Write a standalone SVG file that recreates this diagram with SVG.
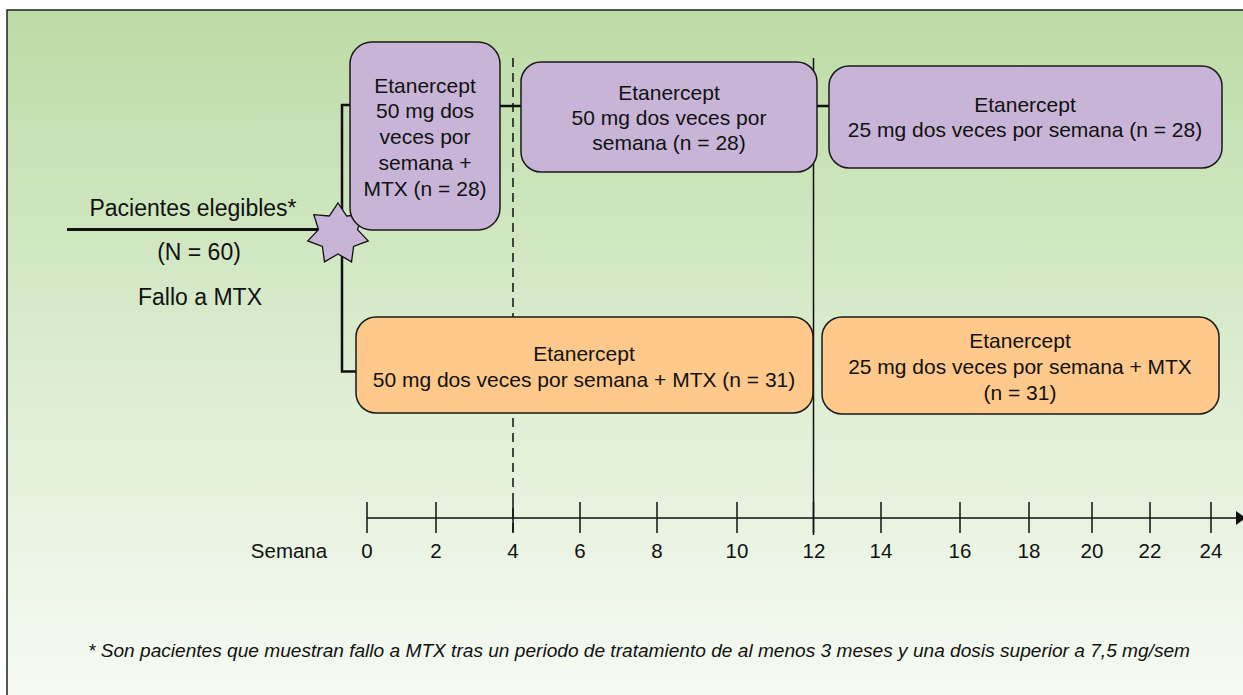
<svg xmlns="http://www.w3.org/2000/svg" width="1243" height="695" viewBox="0 0 1243 695">
<defs>
<linearGradient id="bg" x1="0" y1="0" x2="0" y2="1">
<stop offset="0" stop-color="#bcdba5"/>
<stop offset="0.45" stop-color="#d8ebcc"/>
<stop offset="1" stop-color="#f8fbf5"/>
</linearGradient>
<style>
text{font-family:"Liberation Sans",Arial,sans-serif;fill:#111;}
.bt{font-size:21px;text-anchor:middle;}
.lt{font-size:23px;text-anchor:middle;}
.ax{font-size:20.5px;text-anchor:middle;}
.p{fill:#c8b4d7;stroke:#1a1a1a;stroke-width:1.5;}
.o{fill:#fec98a;stroke:#1a1a1a;stroke-width:1.5;}
.c{stroke:#111;stroke-width:2.5;fill:none;}
.t{stroke:#111;stroke-width:1.5;fill:none;}
</style>
</defs>
<rect x="7" y="10" width="1245" height="700" fill="url(#bg)" stroke="#222" stroke-width="1.5"/>

<g id="connectors">
<line class="c" x1="67" y1="229.5" x2="320" y2="229.5" style="stroke-width:3"/>
<polyline class="c" points="352,105 342,105 342,371.5 357,371.5"/>
<line class="c" x1="500" y1="106" x2="521" y2="106"/>
<line class="c" x1="817" y1="106" x2="829" y2="106"/>
<line class="t" x1="513" y1="58" x2="513" y2="535" stroke-dasharray="9,6"/>
<line class="t" x1="813.5" y1="58" x2="813.5" y2="535"/>
</g>

<g id="axis">
<line class="t" x1="367" y1="518" x2="1238" y2="518"/>
<polygon points="1236,511 1246,518 1236,525" fill="#111"/>
<g class="t">
<line x1="367" y1="502" x2="367" y2="533"/>
<line x1="436" y1="502" x2="436" y2="533"/>
<line x1="513" y1="502" x2="513" y2="533"/>
<line x1="580" y1="502" x2="580" y2="533"/>
<line x1="657" y1="502" x2="657" y2="533"/>
<line x1="737" y1="502" x2="737" y2="533"/>
<line x1="813.5" y1="502" x2="813.5" y2="533"/>
<line x1="881" y1="502" x2="881" y2="533"/>
<line x1="960" y1="502" x2="960" y2="533"/>
<line x1="1029" y1="502" x2="1029" y2="533"/>
<line x1="1092" y1="502" x2="1092" y2="533"/>
<line x1="1150" y1="502" x2="1150" y2="533"/>
<line x1="1211" y1="502" x2="1211" y2="533"/>
</g>
<text class="ax" x="289" y="558">Semana</text>
<text class="ax" x="367" y="558">0</text>
<text class="ax" x="436" y="558">2</text>
<text class="ax" x="513" y="558">4</text>
<text class="ax" x="580" y="558">6</text>
<text class="ax" x="657" y="558">8</text>
<text class="ax" x="737" y="558">10</text>
<text class="ax" x="814" y="558">12</text>
<text class="ax" x="881" y="558">14</text>
<text class="ax" x="960" y="558">16</text>
<text class="ax" x="1029" y="558">18</text>
<text class="ax" x="1092" y="558">20</text>
<text class="ax" x="1150" y="558">22</text>
<text class="ax" x="1211" y="558">24</text>
</g>

<g id="pacientes">
<text class="lt" x="193" y="216">Pacientes elegibles*</text>
<text class="lt" x="199" y="260">(N = 60)</text>
<text class="lt" x="200" y="305">Fallo a MTX</text>
</g>

<g id="star">
<polygon fill="#c8b4d7" stroke="#111" stroke-width="1.3" points="338,203 346.7,216 362.2,214.7 357.5,229.6 368.2,240.9 353.6,246.5 351.5,261.9 338,254 324.5,261.9 322.4,246.5 307.8,240.9 318.5,229.6 313.8,214.7 329.3,216"/>
</g>

<g id="box1">
<rect class="p" x="350" y="42" width="150" height="188" rx="22"/>
<text class="bt" x="425" y="92.5">Etanercept</text>
<text class="bt" x="425" y="118">50 mg dos</text>
<text class="bt" x="425" y="144">veces por</text>
<text class="bt" x="425" y="170">semana +</text>
<text class="bt" x="425" y="195.5">MTX (n = 28)</text>
</g>

<g id="box2">
<rect class="p" x="521" y="62" width="296" height="110" rx="20"/>
<text class="bt" x="669" y="99.5">Etanercept</text>
<text class="bt" x="669" y="124.5">50 mg dos veces por</text>
<text class="bt" x="669" y="149.5">semana (n = 28)</text>
</g>

<g id="box3">
<rect class="p" x="829" y="66" width="393" height="102" rx="20"/>
<text class="bt" x="1025" y="111.5">Etanercept</text>
<text class="bt" x="1025" y="136.5">25 mg dos veces por semana (n = 28)</text>
</g>

<g id="box4">
<rect class="o" x="356" y="317" width="457" height="96" rx="20"/>
<text class="bt" x="584" y="360.5">Etanercept</text>
<text class="bt" x="584" y="386.5">50 mg dos veces por semana + MTX (n = 31)</text>
</g>

<g id="box5">
<rect class="o" x="822" y="317" width="397" height="97" rx="20"/>
<text class="bt" x="1020" y="347.5">Etanercept</text>
<text class="bt" x="1020" y="374">25 mg dos veces por semana + MTX</text>
<text class="bt" x="1020" y="399.5">(n = 31)</text>
</g>

<g id="footnote">
<text x="88" y="657" font-size="17.5" font-style="italic" textLength="1102" lengthAdjust="spacingAndGlyphs">* Son pacientes que muestran fallo a MTX tras un periodo de tratamiento de al menos 3 meses y una dosis superior a 7,5 mg/sem</text>
</g>
</svg>
